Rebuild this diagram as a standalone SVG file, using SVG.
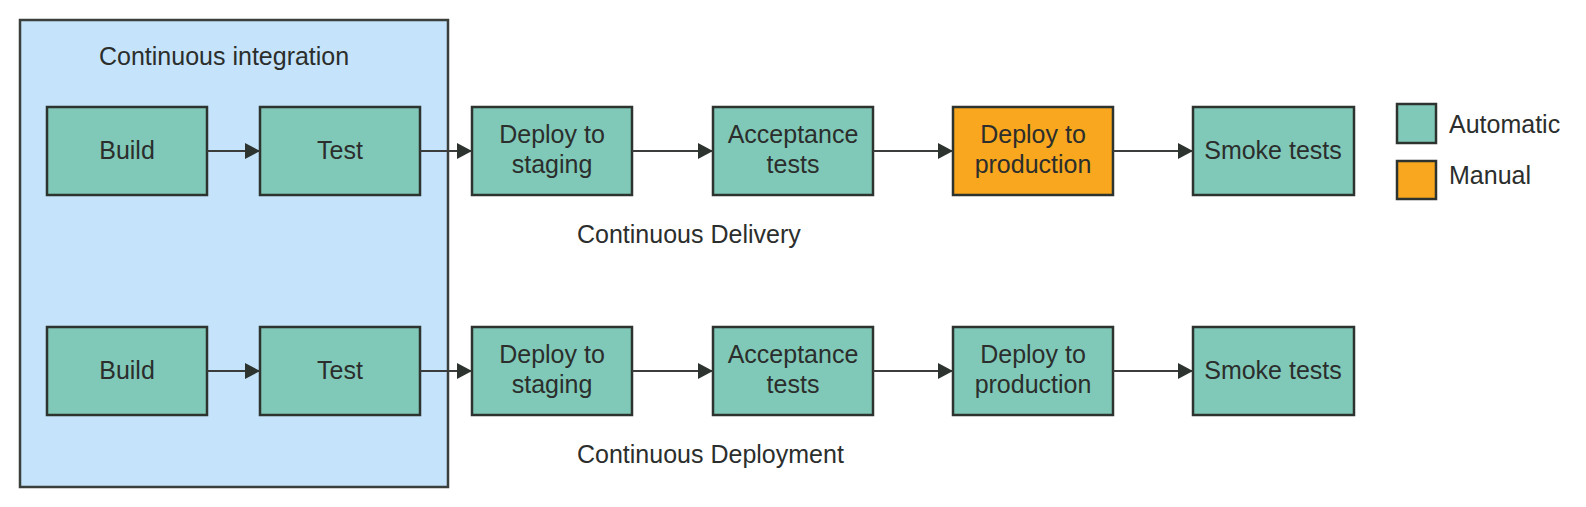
<svg xmlns="http://www.w3.org/2000/svg" width="1586" height="507" viewBox="0 0 1586 507">
<style>
.auto{fill:#80c9b8;stroke:#2d332f;stroke-width:2.5}
.man{fill:#f8a71e;stroke:#2d332f;stroke-width:2.5}
.ci{fill:#c5e4fb;stroke:#3a3f3c;stroke-width:2.5}
text{font-family:"Liberation Sans",Arial,sans-serif;font-size:25px;fill:#2b2e2c}
.c{text-anchor:middle}
.edge{stroke:#3a3d3b;stroke-width:2;fill:none;marker-end:url(#ah)}
</style>
<defs>
<marker id="ah" viewBox="0 0 15 16" refX="15" refY="8" markerWidth="15" markerHeight="16" markerUnits="userSpaceOnUse" orient="auto">
<path d="M0,0 L15,8 L0,16 Z" fill="#2d332f"/>
</marker>
</defs>
<rect width="1586" height="507" fill="#ffffff"/>
<g id="ci-group">
<rect class="ci" x="20" y="20" width="428" height="467"/>
<text x="99" y="65">Continuous integration</text>
</g>
<g id="build1"><rect class="auto" x="47" y="107" width="160" height="88"/><text class="c" x="127" y="159">Build</text></g>
<g id="test1"><rect class="auto" x="260" y="107" width="160" height="88"/><text class="c" x="340" y="159">Test</text></g>
<g id="staging1"><rect class="auto" x="472" y="107" width="160" height="88"/><text class="c" x="552" y="143">Deploy to</text><text class="c" x="552" y="173">staging</text></g>
<g id="accept1"><rect class="auto" x="713" y="107" width="160" height="88"/><text class="c" x="793" y="143">Acceptance</text><text class="c" x="793" y="173">tests</text></g>
<g id="prod1"><rect class="man" x="953" y="107" width="160" height="88"/><text class="c" x="1033" y="143">Deploy to</text><text class="c" x="1033" y="173">production</text></g>
<g id="smoke1"><rect class="auto" x="1193" y="107" width="161" height="88"/><text class="c" x="1273" y="159">Smoke tests</text></g>
<g id="label-delivery"><text x="577" y="243">Continuous Delivery</text></g>

<g id="build2"><rect class="auto" x="47" y="327" width="160" height="88"/><text class="c" x="127" y="379">Build</text></g>
<g id="test2"><rect class="auto" x="260" y="327" width="160" height="88"/><text class="c" x="340" y="379">Test</text></g>
<g id="staging2"><rect class="auto" x="472" y="327" width="160" height="88"/><text class="c" x="552" y="363">Deploy to</text><text class="c" x="552" y="393">staging</text></g>
<g id="accept2"><rect class="auto" x="713" y="327" width="160" height="88"/><text class="c" x="793" y="363">Acceptance</text><text class="c" x="793" y="393">tests</text></g>
<g id="prod2"><rect class="auto" x="953" y="327" width="160" height="88"/><text class="c" x="1033" y="363">Deploy to</text><text class="c" x="1033" y="393">production</text></g>
<g id="smoke2"><rect class="auto" x="1193" y="327" width="161" height="88"/><text class="c" x="1273" y="379">Smoke tests</text></g>
<g id="label-deployment"><text x="577" y="463">Continuous Deployment</text></g>

<g id="legend">
<rect class="auto" x="1397" y="104" width="39" height="39"/>
<text x="1449" y="133">Automatic</text>
<rect class="man" x="1397" y="161" width="39" height="38"/>
<text x="1449" y="184">Manual</text>
</g>

<g id="connectors">
<line class="edge" x1="207" y1="151" x2="260" y2="151"/>
<line class="edge" x1="420" y1="151" x2="472" y2="151"/>
<line class="edge" x1="632" y1="151" x2="713" y2="151"/>
<line class="edge" x1="873" y1="151" x2="953" y2="151"/>
<line class="edge" x1="1113" y1="151" x2="1193" y2="151"/>
<line class="edge" x1="207" y1="371" x2="260" y2="371"/>
<line class="edge" x1="420" y1="371" x2="472" y2="371"/>
<line class="edge" x1="632" y1="371" x2="713" y2="371"/>
<line class="edge" x1="873" y1="371" x2="953" y2="371"/>
<line class="edge" x1="1113" y1="371" x2="1193" y2="371"/>
</g>
</svg>
